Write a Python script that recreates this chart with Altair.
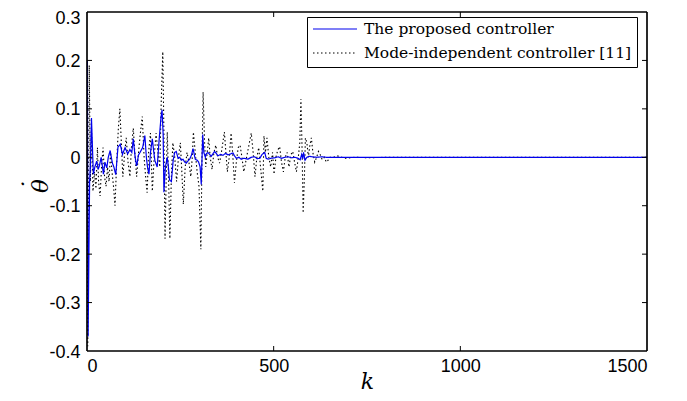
import altair as alt
import pandas as pd

series_names = ["The proposed controller", "Mode-independent controller [11]"]

prop_k = [0, 1, 3, 7, 9, 12, 17, 21, 26, 30, 33, 38, 44, 48, 53, 57, 62, 68, 72, 77, 83, 89, 95, 102, 109,
          115, 120, 124, 129, 133, 138, 142, 149, 155, 159, 162, 166, 170, 175, 179, 182, 188, 193, 198, 201,
          204, 206, 210, 215, 218, 221, 226, 231, 235, 239, 244, 248, 253, 257, 262, 266, 270, 275, 280, 284,
          290, 295, 299, 303, 306, 310, 313, 317, 320, 324, 333, 338, 342, 351, 358, 364, 371, 378, 385, 391,
          395, 400, 407, 413, 420, 431, 440, 449, 456, 463, 469, 476, 480, 485, 493, 503, 512, 521, 530, 539,
          548, 557, 565, 571, 575, 578, 580, 584, 589, 596, 603, 615, 630, 640, 660, 700, 800, 1000, 1500]
prop_v = [0.0, 0.2, -0.37, -0.05, -0.02, 0.081, -0.035, -0.02, -0.008, -0.025, -0.018, 0.0, -0.035, -0.01,
          -0.022, 0.0, 0.014, -0.012, -0.02, -0.036, 0.021, 0.027, 0.006, 0.02, 0.007, 0.016, 0.01, 0.038, 0.0,
          -0.018, 0.005, 0.01, 0.02, 0.045, 0.0, -0.02, -0.035, 0.01, 0.038, 0.01, -0.007, -0.02, 0.034, 0.081,
          0.098, 0.047, -0.072, -0.02, 0.0, -0.02, -0.047, -0.05, -0.005, 0.01, 0.012, -0.002, 0.0, -0.006,
          -0.004, -0.01, -0.012, -0.008, -0.004, 0.005, 0.018, -0.004, -0.006, -0.01, -0.02, -0.056, 0.047,
          0.01, 0.0, 0.008, 0.01, 0.002, 0.008, 0.012, 0.003, 0.006, 0.004, 0.008, 0.005, 0.007, 0.009, 0.003,
          -0.002, 0.0, -0.004, -0.002, -0.004, 0.0, 0.001, -0.003, -0.002, 0.006, 0.01, -0.002, -0.004, -0.002,
          -0.001, 0.001, -0.002, 0.0, 0.001, -0.001, 0.0, -0.002, -0.005, 0.006, -0.003, 0.01, -0.006, 0.0,
          0.002, 0.001, 0.0, 0.001, 0.0, 0.0, 0.0, 0.0, 0.0, 0.0]

mi_k = [0, 2, 6, 9, 12, 16, 20, 24, 28, 31, 35, 39, 43, 47, 51, 55, 59, 63, 67, 71, 75, 79, 84, 88, 92, 96,
        100, 105, 110, 115, 119, 124, 128, 133, 138, 143, 148, 153, 157, 161, 165, 170, 175, 180, 185, 190,
        195, 199, 203, 206, 209, 212, 215, 219, 222, 226, 230, 235, 240, 245, 250, 254, 258, 263, 268, 273,
        278, 282, 285, 290, 295, 300, 305, 308, 311, 315, 318, 322, 326, 330, 335, 340, 345, 350, 355, 360,
        368, 372, 376, 381, 386, 390, 395, 400, 405, 410, 415, 420, 425, 430, 435, 440, 445, 450, 455, 460,
        466, 471, 474, 478, 482, 487, 492, 497, 501, 506, 511, 516, 521, 526, 531, 536, 541, 546, 551, 556,
        561, 566, 570, 573, 576, 579, 582, 585, 589, 593, 597, 601, 605, 610, 615, 620, 625, 630, 636, 641,
        646, 651, 660, 670, 690, 720, 760, 800, 900, 1000, 1200, 1500]
mi_v = [0.0, -0.39, 0.19, -0.05, 0.06, -0.07, -0.03, -0.065, 0.02, -0.05, -0.08, -0.02, 0.02, -0.04, -0.06,
        -0.02, -0.05, 0.01, -0.03, -0.06, -0.1, -0.02, 0.06, 0.1, 0.03, -0.04, 0.0, 0.04, -0.01, -0.04, 0.02,
        0.06, 0.01, -0.04, 0.01, 0.05, 0.084, 0.0, -0.04, -0.073, 0.01, 0.05, -0.07, 0.0, 0.05, 0.01, -0.02,
        0.12, 0.218, 0.05, -0.168, -0.05, 0.052, -0.06, -0.168, -0.04, 0.03, 0.0, -0.05, 0.0, 0.03, -0.03,
        -0.097, -0.02, 0.01, -0.01, -0.04, 0.0, 0.052, 0.01, -0.03, -0.06, -0.19, 0.0, 0.135, 0.03, -0.02,
        0.01, 0.04, 0.0, -0.025, 0.01, 0.025, 0.0, -0.012, 0.01, 0.052, 0.01, -0.03, 0.0, 0.05, 0.01, -0.053,
        -0.01, 0.02, 0.025, 0.0, -0.03, -0.01, 0.01, 0.03, 0.05, 0.01, -0.04, 0.0, 0.02, -0.03, -0.07, 0.044,
        0.01, 0.04, 0.0, -0.02, 0.01, -0.035, 0.0, 0.015, 0.022, -0.01, -0.03, 0.0, 0.01, -0.02, 0.005, 0.012,
        -0.01, -0.03, 0.0, 0.03, 0.12, 0.02, -0.115, -0.05, 0.04, 0.03, 0.0, 0.025, 0.04, 0.01, -0.01, 0.0,
        0.012, 0.005, -0.005, 0.0, -0.01, -0.006, 0.0, 0.0, 0.003, -0.002, 0.0, -0.001, 0.0, 0.0, 0.0, 0.0, 0.0]

x_tick_values = [0, 500, 1000, 1500]
y_tick_values = [-0.4, -0.3, -0.2, -0.1, 0, 0.1, 0.2, 0.3]

df = pd.concat([
    pd.DataFrame({"k": prop_k, "v": prop_v, "s": series_names[0]}),
    pd.DataFrame({"k": mi_k, "v": mi_v, "s": series_names[1]}),
], ignore_index=True)

W, H = 560, 339
TL = 5

x_scale = alt.Scale(domain=[0, 1500], nice=False, zero=False)
y_scale = alt.Scale(domain=[-0.4, 0.3], nice=False, zero=False)

x_axis = alt.Axis(values=x_tick_values, title="k", format="d", grid=False, domain=False, ticks=False,
                  labelPadding=6, labelFont="Liberation Sans", labelFontSize=18, labelColor="black",
                  titleFont="DejaVu Serif", titleFontStyle="italic", titleFontWeight="normal",
                  titleFontSize=22, titleColor="black", titleX=W / 2, titleY=37,
                  titleAlign="center", titleBaseline="alphabetic")
y_axis = alt.Axis(values=y_tick_values, title=["˙", "θ"], grid=False, domain=False, ticks=False,
                  labelPadding=7,
                  labelOffset={"condition": {"test": "datum.value > 0.25", "value": 6}, "value": 1},
                  labelFont="Liberation Sans", labelFontSize=18, labelColor="black",
                  labelExpr="datum.value < 0 ? '-' + format(-datum.value, '.1~f') : format(datum.value, '.1~f')",
                  titleFont="DejaVu Serif", titleFontStyle="italic", titleFontWeight="normal",
                  titleFontSize=23, titleLineHeight=9, titleColor="black", titleAngle=270,
                  titleX=-56, titleY=H / 2 + 4, titleAlign="center", titleBaseline="middle")

legend = alt.Legend(title=None, orient="none", legendX=220, legendY=5,
                    symbolType="stroke", symbolSize=1936, symbolStrokeWidth=1.2, clipHeight=14,
                    labelFont="DejaVu Serif", labelFontSize=15.5, labelColor="black", labelLimit=0,
                    labelOffset=6, rowPadding=8, padding=5,
                    fillColor="white", strokeColor="black")

color = alt.Color("s:N", scale=alt.Scale(domain=series_names, range=["#0000ee", "#000000"]),
                  legend=legend)
dash = alt.StrokeDash("s:N", scale=alt.Scale(domain=series_names, range=[[1, 0], [1.5, 2.5]]),
                      legend=legend)

base = alt.Chart(df).encode(
    x=alt.X("k:Q", scale=x_scale, axis=x_axis),
    y=alt.Y("v:Q", scale=y_scale, axis=y_axis),
    color=color,
    strokeDash=dash,
)
black_line = base.transform_filter(alt.datum.s == series_names[1]).mark_line(strokeWidth=1.1, clip=True)
blue_line = base.transform_filter(alt.datum.s == series_names[0]).mark_line(strokeWidth=1.2, clip=True)

xt = pd.DataFrame({"k": x_tick_values[1:-1]})
yt = pd.DataFrame({"v": y_tick_values[1:-1]})

xb = alt.Chart(xt).mark_rule(color="black", strokeWidth=1).encode(
    x=alt.X("k:Q", scale=x_scale, axis=x_axis), y=alt.value(H), y2=alt.value(H - TL))
xtop = alt.Chart(xt).mark_rule(color="black", strokeWidth=1).encode(
    x=alt.X("k:Q", scale=x_scale, axis=x_axis), y=alt.value(0), y2=alt.value(TL))
yl = alt.Chart(yt).mark_rule(color="black", strokeWidth=1).encode(
    y=alt.Y("v:Q", scale=y_scale, axis=y_axis), x=alt.value(0), x2=alt.value(TL))
yr = alt.Chart(yt).mark_rule(color="black", strokeWidth=1).encode(
    y=alt.Y("v:Q", scale=y_scale, axis=y_axis), x=alt.value(W), x2=alt.value(W - TL))

frame_top = alt.Chart(xt).mark_rule(color="black", strokeWidth=1.2).encode(
    x=alt.value(0), x2=alt.value(W), y=alt.value(0))
frame_bottom = alt.Chart(xt).mark_rule(color="black", strokeWidth=1.2).encode(
    x=alt.value(0), x2=alt.value(W), y=alt.value(H))
frame_left = alt.Chart(xt).mark_rule(color="black", strokeWidth=1.2).encode(
    y=alt.value(0), y2=alt.value(H), x=alt.value(0))
frame_right = alt.Chart(xt).mark_rule(color="black", strokeWidth=1.2).encode(
    y=alt.value(0), y2=alt.value(H), x=alt.value(W))

chart = alt.layer(black_line, blue_line, xb, xtop, yl, yr,
                  frame_top, frame_bottom, frame_left, frame_right).properties(
    width=W, height=H,
    background="white",
    autosize=alt.AutoSizeParams(type="none"),
    padding={"left": 79, "top": 4, "right": 30, "bottom": 42},
).configure_view(stroke=None)

chart.save("out.html", embed_options={"renderer": "svg", "actions": False})
